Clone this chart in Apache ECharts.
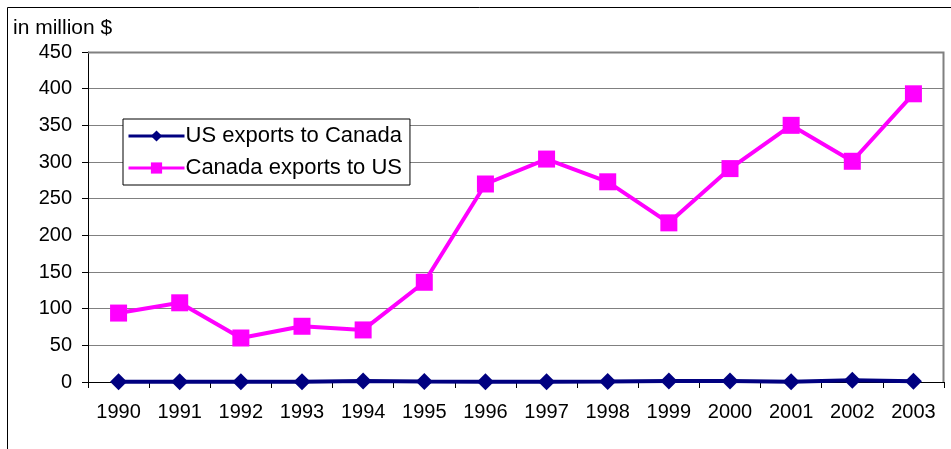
<!DOCTYPE html>
<html lang="en">
<head>
    <meta charset="UTF-8">
    <title>US / Canada exports</title>
    <script src="https://cdn.jsdelivr.net/npm/echarts@6/dist/echarts.min.js"></script>
</head>
<body style="margin:0;background:#fff;">
<div id="main" style="width: 951px;height:449px;"></div>
<script>
    // data
    var years = ['1990', '1991', '1992', '1993', '1994', '1995', '1996', '1997', '1998', '1999', '2000', '2001', '2002', '2003'];
    var usToCanada = [0.5, 0.3, 0.5, 0.4, 1.5, 0.8, 0.3, 0.3, 0.8, 1.5, 1.5, 0.3, 2.5, 1];
    var canadaToUs = [94, 108, 60, 76, 71, 136, 270, 304, 273, 217, 291, 350, 301, 393];
    var yTicks = [0, 50, 100, 150, 200, 250, 300, 350, 400, 450];

    var myChart = echarts.init(document.getElementById('main'));
    var font = 'Liberation Sans, Arial, sans-serif';
    var option = {
        backgroundColor: '#fff',
        animation: false,
        title: {
            text: 'in million $',
            left: 8,
            top: 13,
            textStyle: { fontFamily: font, fontSize: 21, fontWeight: 'normal', color: '#000' }
        },
        graphic: [{
            type: 'rect',
            shape: { x: 7.5, y: 7.5, width: 960, height: 460 },
            style: { fill: null, stroke: '#000', lineWidth: 1 },
            z: 0
        }, {
            type: 'polyline',
            shape: { points: [[88, 52.5], [943.5, 52.5], [943.5, 382]] },
            style: { stroke: '#808080', lineWidth: 2 },
            z: 1
        }],
        legend: {
            orient: 'vertical',
            left: 123,
            top: 119,
            backgroundColor: '#fff',
            borderColor: '#000',
            borderWidth: 1,
            padding: [6, 8, 6, 4],
            itemGap: 10,
            itemWidth: 56,
            itemHeight: 14,
            lineStyle: { width: 3 },
            textStyle: { fontFamily: font, fontSize: 22, color: '#000', padding: [0, 0, 0, -4] },
            data: ['US exports to Canada', 'Canada exports to US']
        },
        grid: { left: 88, right: 7, top: 52, bottom: 67 },
        xAxis: {
            type: 'category',
            data: years,
            boundaryGap: true,
            axisLine: { lineStyle: { color: '#000', width: 1 } },
            axisTick: { show: true, length: 6, lineStyle: { color: '#000' } },
            axisLabel: { fontFamily: font, fontSize: 20, color: '#000', margin: 20 }
        },
        yAxis: {
            type: 'value',
            min: 0,
            max: yTicks[yTicks.length - 1],
            interval: yTicks[1] - yTicks[0],
            axisLine: { show: true, lineStyle: { color: '#000', width: 1 } },
            axisTick: { show: true, length: 6, lineStyle: { color: '#000' } },
            axisLabel: { fontFamily: font, fontSize: 20, color: '#000', margin: 16 },
            splitLine: { lineStyle: { color: '#808080', width: 1 } }
        },
        series: [
            {
                name: 'US exports to Canada',
                type: 'line',
                data: usToCanada,
                symbol: 'diamond',
                symbolSize: 17,
                itemStyle: { color: '#000080' },
                lineStyle: { color: '#000080', width: 4 },
                z: 3
            },
            {
                name: 'Canada exports to US',
                type: 'line',
                data: canadaToUs,
                symbol: 'rect',
                symbolSize: 17,
                itemStyle: { color: '#ff00ff' },
                lineStyle: { color: '#ff00ff', width: 4 },
                z: 3
            }
        ]
    };
    myChart.setOption(option);
</script>
</body>
</html>
